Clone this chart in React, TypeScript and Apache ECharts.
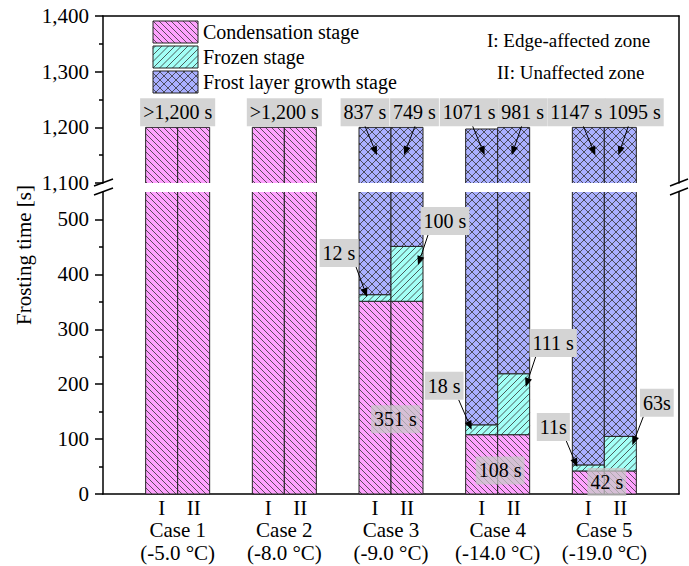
import React, { useEffect, useRef } from "react";
import * as echarts from "echarts";

const FONT = "Liberation Serif";

// ---------------- data ----------------
const caseNames = ["Case 1", "Case 2", "Case 3", "Case 4", "Case 5"];
const caseTemps = ["-5.0", "-8.0", "-9.0", "-14.0", "-19.0"];
const zoneLabels = ["I", "II"];
const barCase = [1, 1, 2, 2, 3, 3, 4, 4, 5, 5];
const barZone = [0, 1, 0, 1, 0, 1, 0, 1, 0, 1];
const condensation = [1200, 1200, 1200, 1200, 351, 351, 108, 108, 42, 42];
const frozen = [0, 0, 0, 0, 12, 100, 18, 111, 11, 63];
const frostGrowth = [0, 0, 0, 0, 837, 749, 1071, 981, 1147, 1095];
const stageNames = ["Condensation stage", "Frozen stage", "Frost layer growth stage"];
const zoneNotes = ["I: Edge-affected zone", "II: Unaffected zone"];
const upperRange = [1100, 1400];
const lowerRange = [0, 550];
const upperMajor = [1100, 1200, 1300, 1400];
const upperMinor = [1150, 1250, 1350];
const lowerMajor = [0, 100, 200, 300, 400, 500];
const lowerMinor = [50, 150, 250, 350, 450];

// annotations with arrows
const arrowText = ["837 s", "749 s", "1071 s", "981 s", "1147 s", "1095 s", "12 s", "100 s", "18 s", "111 s", "11s", "63s"];
const arrowBar = [4, 5, 6, 7, 8, 9, 4, 5, 6, 7, 8, 9];
const arrowValue = [1150, 1150, 1150, 1150, 1150, 1150, 359, 417, 117, 195, 49, 89];
// plain labels
const plainText = [">1,200 s", ">1,200 s", "351 s", "108 s", "42 s"];
const plainCase = [1, 2, 3, 4, 5];
const plainValue = [1227, 1227, 136, 43, 22];

// ---------------- layout / style ----------------
const HALF = 0.15; // half bar width in x units
const stageFill = ["#FFA3FF", "#A3FFF6", "#AAB0FF"];
const hatchKind = ["back", "fwd", "cross"];
const hatchStep = [6, 6.5, 8];
const HATCH_STROKE = "#333";
// [tipDx, boxDx, boxDy, startDx]
const arrowLayout = [
  [2, -12, -43, 0], [-3, 10.5, -43, 0.5], [3, -15.5, -43, 3.5], [-2, 11, -43, -1], [7, -19, -43, 7], [-2, 16, -43, -6],
  [-8, -28, -44, 17], [11, 27, -44, -17], [-10, -27.5, -44, 14.5], [12, 27.5, -44, -17.5], [-11, -24, -40, 13], [12, 24.5, -42.5, -13.5],
];
const plainLayout: [number, boolean][] = [[0, true], [0, true], [4.5, false], [2.5, false], [2.5, false]];

const barX = barCase.map((c, i) => c + (barZone[i] === 0 ? -HALF : HALF));

function hatchSegs(x0: number, y0: number, x1: number, y1: number, dir: string, s: number) {
  const segs: number[][] = [];
  if (dir === "back" || dir === "cross") {
    const cmin = y0 - x1, cmax = y1 - x0;
    for (let c = Math.ceil(cmin / s) * s; c <= cmax; c += s) {
      const lo = Math.max(x0, y0 - c), hi = Math.min(x1, y1 - c);
      if (hi - lo > 0.3) segs.push([lo, lo + c, hi, hi + c]);
    }
  }
  if (dir === "fwd" || dir === "cross") {
    const cmin = x0 + y0, cmax = x1 + y1;
    for (let c = Math.ceil(cmin / s) * s; c <= cmax; c += s) {
      const lo = Math.max(x0, c - y1), hi = Math.min(x1, c - y0);
      if (hi - lo > 0.3) segs.push([lo, c - lo, hi, c - hi]);
    }
  }
  return segs;
}
const segsToPath = (segs: number[][]) =>
  segs.map(([a, b, c, d]) => `M${a.toFixed(2)} ${b.toFixed(2)}L${c.toFixed(2)} ${d.toFixed(2)}`).join("");

function renderBar(params: any, api: any) {
  const xc = api.value(0);
  const i = api.value(1);
  const cs = params.coordSys;
  const top = cs.y, bottom = cs.y + cs.height;
  const xl = api.coord([xc - HALF, 0])[0];
  const xr = api.coord([xc + HALF, 0])[0];
  const bounds = [0, condensation[i], condensation[i] + frozen[i], condensation[i] + frozen[i] + frostGrowth[i]];
  const children: any[] = [];
  for (let k = 0; k < 3; k++) {
    const lo = bounds[k], hi = bounds[k + 1];
    if (hi <= lo) continue;
    const pyTop = api.coord([xc, hi])[1];
    const pyBot = api.coord([xc, lo])[1];
    const yt = Math.max(pyTop, top), yb = Math.min(pyBot, bottom);
    if (yb - yt < 0.1) continue;
    children.push({ type: "rect", shape: { x: xl, y: yt, width: xr - xl, height: yb - yt }, style: { fill: stageFill[k] } });
    children.push({
      type: "path",
      shape: { pathData: segsToPath(hatchSegs(xl, yt, xr, yb, hatchKind[k], hatchStep[k])) },
      style: { fill: "none", stroke: HATCH_STROKE, lineWidth: 0.8 },
    });
    let border = `M${xl} ${yt}L${xl} ${yb}M${xr} ${yt}L${xr} ${yb}`;
    if (pyTop >= top - 0.5) border += `M${xl} ${yt}L${xr} ${yt}`;
    if (pyBot <= bottom + 0.5) border += `M${xl} ${yb}L${xr} ${yb}`;
    children.push({ type: "path", shape: { pathData: border }, style: { fill: "none", stroke: "#222", lineWidth: 1 } });
  }
  return { type: "group", children };
}

function renderArrow(params: any, api: any) {
  const xc = api.value(0), v = api.value(1), j = api.value(2);
  const [tdx, bdx, bdy, sdx] = arrowLayout[j];
  const p = api.coord([xc, v]);
  const tip = [p[0] + tdx, p[1]];
  const bc = [tip[0] + bdx, tip[1] + bdy];
  const start = [bc[0] + sdx, bc[1] + 14];
  const dx = tip[0] - start[0], dy = tip[1] - start[1];
  const len = Math.sqrt(dx * dx + dy * dy);
  const ux = dx / len, uy = dy / len;
  const hl = 9, hw = 3.6;
  const base = [tip[0] - ux * hl, tip[1] - uy * hl];
  const nx = -uy, ny = ux;
  return {
    type: "group",
    children: [
      { type: "line", shape: { x1: start[0], y1: start[1], x2: base[0], y2: base[1] }, style: { stroke: "#000", lineWidth: 1 } },
      {
        type: "polygon",
        shape: { points: [tip, [base[0] + nx * hw, base[1] + ny * hw], [base[0] - nx * hw, base[1] - ny * hw]] },
        style: { fill: "#000" },
      },
      {
        type: "text",
        x: bc[0],
        y: bc[1],
        style: {
          text: arrowText[j], fill: "#000", fontSize: 20, fontFamily: FONT, align: "center", verticalAlign: "middle",
          backgroundColor: "#D4D4D4", padding: [4, 3, 4, 3],
        },
      },
    ],
  };
}

function renderPlain(params: any, api: any) {
  const xc = api.value(0), v = api.value(1), j = api.value(2);
  const [dx, solid] = plainLayout[j];
  const p = api.coord([xc, v]);
  return {
    type: "text",
    x: p[0] + dx,
    y: p[1],
    style: {
      text: plainText[j], fill: "#000", fontSize: 20, fontFamily: FONT, align: "center", verticalAlign: "middle",
      backgroundColor: solid ? "#D4D4D4" : "rgba(200,200,200,0.75)", padding: [4, 3, 4, 3],
    },
  };
}

function renderXLabels(params: any, api: any) {
  const c = api.value(0), k = api.value(2);
  const cs = params.coordSys;
  const bottom = cs.y + cs.height;
  const children: any[] = [];
  [-HALF, HALF].forEach((off, z) => {
    const px = api.coord([c + off, 0])[0];
    children.push({
      type: "text", x: px, y: bottom + 14,
      style: { text: zoneLabels[z], fill: "#000", fontSize: 21, fontFamily: FONT, align: "center", verticalAlign: "middle" },
    });
  });
  const cx = api.coord([c, 0])[0];
  children.push({
    type: "text", x: cx, y: bottom + 36,
    style: { text: caseNames[k], fill: "#000", fontSize: 21, fontFamily: FONT, align: "center", verticalAlign: "middle" },
  });
  children.push({
    type: "text", x: cx, y: bottom + 59,
    style: {
      text: `(${caseTemps[k]} °C)`, fill: "#000", fontSize: 21, fontFamily: FONT, align: "center", verticalAlign: "middle",
    },
  });
  return { type: "group", children };
}

const fmt = (v: number) => String(v).replace(/\B(?=(\d{3})+(?!\d))/g, ",");

function buildOption() {
  const axisLine = { show: true, onZero: false, lineStyle: { color: "#000", width: 1.5 } };
  const xAxisBase = {
    type: "value", min: 0.3, max: 5.7, axisLine, axisTick: { show: false }, axisLabel: { show: false }, splitLine: { show: false },
  };
  const yMain = (gi: number, range: number[], major: number[]) => ({
    gridIndex: gi, type: "value", position: "left", min: range[0], max: range[1],
    axisLine, splitLine: { show: false },
    axisTick: { show: true, inside: false, length: 8, customValues: major, lineStyle: { color: "#000", width: 1.5 } },
    axisLabel: { show: true, customValues: major, formatter: (v: number) => fmt(v), color: "#000", fontSize: 21, fontFamily: FONT, margin: 14 },
  });
  const yMinor = (gi: number, range: number[], minor: number[]) => ({
    gridIndex: gi, type: "value", position: "left", min: range[0], max: range[1],
    axisLine: { show: false, onZero: false }, splitLine: { show: false }, axisLabel: { show: false },
    axisTick: { show: true, inside: false, length: 4, customValues: minor, lineStyle: { color: "#000", width: 1.5 } },
  });
  const yRight = (gi: number, range: number[]) => ({
    gridIndex: gi, type: "value", position: "right", min: range[0], max: range[1],
    axisLine, splitLine: { show: false }, axisLabel: { show: false }, axisTick: { show: false },
  });

  const barData = barX.map((x, i) => [x, i]);
  const arrowUpper: number[][] = [], arrowLower: number[][] = [];
  arrowText.forEach((_, j) => {
    const b = arrowBar[j];
    const row = [barX[b], arrowValue[j], j];
    (arrowValue[j] >= upperRange[0] ? arrowUpper : arrowLower).push(row);
  });
  const plainUpper: number[][] = [], plainLower: number[][] = [];
  plainText.forEach((_, j) => {
    const row = [plainCase[j], plainValue[j], j];
    (plainValue[j] >= upperRange[0] ? plainUpper : plainLower).push(row);
  });
  const caseData = caseNames.map((_, k) => [k + 1, 0, k]);

  // graphic: legend, notes, y-title, break marks
  const graphic: any[] = [];
  stageNames.forEach((name, k) => {
    const x = 153, y = 21 + 25 * k, w = 45, h = 22;
    graphic.push({ type: "rect", shape: { x, y, width: w, height: h }, style: { fill: stageFill[k] }, z: 10 });
    hatchSegs(x, y, x + w, y + h, hatchKind[k], hatchStep[k]).forEach(([a, b, c, d]) => {
      graphic.push({ type: "line", shape: { x1: a, y1: b, x2: c, y2: d }, style: { stroke: HATCH_STROKE, lineWidth: 0.8 }, z: 10 });
    });
    graphic.push({ type: "rect", shape: { x, y, width: w, height: h }, style: { fill: "none", stroke: "#222", lineWidth: 1 }, z: 11 });
    graphic.push({
      type: "text", x: 203, y: y + h / 2, z: 11,
      style: { text: name, fill: "#000", fontSize: 20, fontFamily: FONT, align: "left", verticalAlign: "middle" },
    });
  });
  graphic.push({
    type: "text", x: 487, y: 40, z: 11,
    style: { text: zoneNotes[0], fill: "#000", fontSize: 19, fontFamily: FONT, align: "left", verticalAlign: "middle" },
  });
  graphic.push({
    type: "text", x: 497, y: 72, z: 11,
    style: { text: zoneNotes[1], fill: "#000", fontSize: 19, fontFamily: FONT, align: "left", verticalAlign: "middle" },
  });
  graphic.push({
    type: "text", x: 24, y: 255, rotation: Math.PI / 2, z: 11,
    style: { text: "Frosting time [s]", fill: "#000", fontSize: 21, fontFamily: FONT, align: "center", verticalAlign: "middle" },
  });
  [[94, 113], [670, 688]].forEach(([a, b]) => {
    graphic.push({ type: "line", shape: { x1: a, y1: 186, x2: b, y2: 179 }, style: { stroke: "#000", lineWidth: 1.5 }, z: 12 });
    graphic.push({ type: "line", shape: { x1: a, y1: 195, x2: b, y2: 188 }, style: { stroke: "#000", lineWidth: 1.5 }, z: 12 });
  });

  return {
    animation: false,
    backgroundColor: "#fff",
    textStyle: { fontFamily: FONT },
    grid: [
      { left: 103, right: 10, top: 16, height: 167 },
      { left: 103, right: 10, top: 192, height: 302 },
    ],
    xAxis: [
      { ...xAxisBase, gridIndex: 0, position: "top" },
      { ...xAxisBase, gridIndex: 1, position: "bottom" },
    ],
    yAxis: [
      yMain(0, upperRange, upperMajor),
      yMain(1, lowerRange, lowerMajor),
      yRight(0, upperRange),
      yRight(1, lowerRange),
      yMinor(0, upperRange, upperMinor),
      yMinor(1, lowerRange, lowerMinor),
    ],
    graphic,
    series: [
      { type: "custom", xAxisIndex: 0, yAxisIndex: 0, renderItem: renderBar, data: barData, z: 2, silent: true },
      { type: "custom", xAxisIndex: 1, yAxisIndex: 1, renderItem: renderBar, data: barData, z: 2, silent: true },
      { type: "custom", xAxisIndex: 0, yAxisIndex: 0, renderItem: renderArrow, data: arrowUpper, z: 5, silent: true },
      { type: "custom", xAxisIndex: 1, yAxisIndex: 1, renderItem: renderArrow, data: arrowLower, z: 5, silent: true },
      { type: "custom", xAxisIndex: 0, yAxisIndex: 0, renderItem: renderPlain, data: plainUpper, z: 5, silent: true },
      { type: "custom", xAxisIndex: 1, yAxisIndex: 1, renderItem: renderPlain, data: plainLower, z: 5, silent: true },
      { type: "custom", xAxisIndex: 1, yAxisIndex: 1, renderItem: renderXLabels, data: caseData, z: 5, silent: true },
    ],
  };
}

export default function App() {
  const ref = useRef<HTMLDivElement>(null);
  useEffect(() => {
    if (!ref.current) return;
    const chart = echarts.init(ref.current, null, { renderer: "svg" });
    chart.setOption(buildOption() as any);
    return () => chart.dispose();
  }, []);
  return <div ref={ref} style={{ position: "absolute", left: 0, top: 0, width: 689, height: 566 }} />;
}
